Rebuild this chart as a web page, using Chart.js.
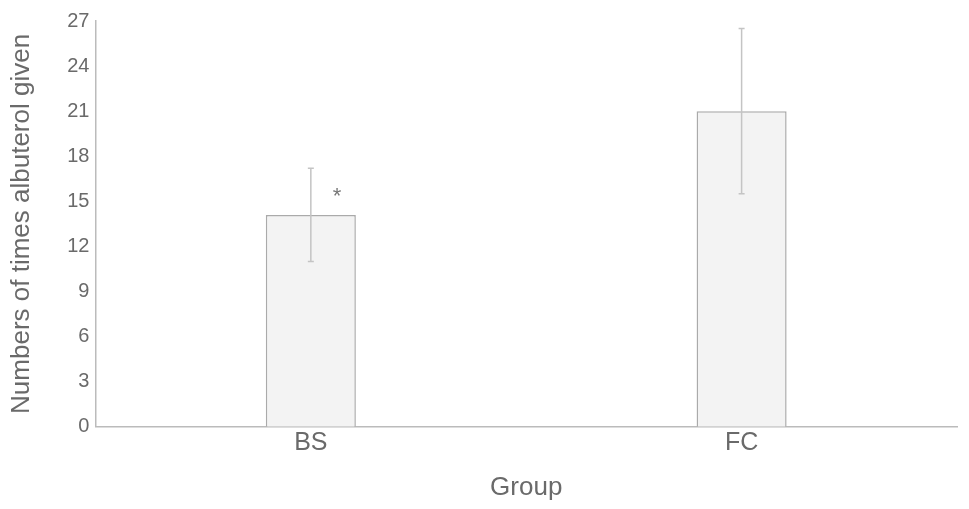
<!DOCTYPE html>
<html>
<head>
<meta charset="utf-8">
<script src="https://cdn.jsdelivr.net/npm/chart.js@4/dist/chart.umd.min.js"></script>
<style>
  html, body { margin: 0; padding: 0; background: #fff; }
  #wrap { width: 969px; height: 509px; }
</style>
</head>
<body>
<div id="wrap"><canvas id="albuterolChart" width="969" height="509"></canvas></div>
<script>
// Data
const groups = ['BS', 'FC'];
const means = [14.1, 21.0];
const errors = [3.1, 5.5];
const marks = ['*', ''];      // significance mark per group
const markValues = [15.6, 0]; // value at which the mark sits
const yTicks = [0, 3, 6, 9, 12, 15, 18, 21, 24, 27];

const textColor = '#6a6a6a';
const lineColor = '#bbb';
const fontFamily = '"Liberation Sans", Arial, sans-serif';

// Draws the error bars and the significance mark
const errorBars = {
    id: 'errorBars',
    afterDatasetsDraw(chart) {
        const ctx = chart.ctx;
        const y = chart.scales.y;
        const meta = chart.getDatasetMeta(0);
        ctx.save();
        meta.data.forEach((bar, i) => {
            const top = y.getPixelForValue(means[i] + errors[i]);
            const bottom = y.getPixelForValue(means[i] - errors[i]);
            ctx.strokeStyle = '#c4c4c4';
            ctx.lineWidth = 1.5;
            ctx.beginPath();
            ctx.moveTo(bar.x, top);
            ctx.lineTo(bar.x, bottom);
            ctx.moveTo(bar.x - 3, top);
            ctx.lineTo(bar.x + 3, top);
            ctx.moveTo(bar.x - 3, bottom);
            ctx.lineTo(bar.x + 3, bottom);
            ctx.stroke();
            if (marks[i]) {
                ctx.fillStyle = '#777';
                ctx.font = '22px ' + fontFamily;
                ctx.textAlign = 'center';
                ctx.textBaseline = 'middle';
                ctx.fillText(marks[i], bar.x + bar.width * 0.29, y.getPixelForValue(markValues[i]) + 5);
            }
        });
        ctx.restore();
    }
};

const config = {
    type: 'bar',
    data: {
        labels: groups,
        datasets: [{
            label: 'Numbers of times albuterol given',
            data: means,
            backgroundColor: '#f3f3f3',
            borderColor: '#aaa',
            borderWidth: 1.5,
            barPercentage: 1,
            categoryPercentage: 0.209
        }]
    },
    options: {
        responsive: false,
        animation: false,
        layout: { padding: { left: 6, right: 12, top: 21, bottom: 6 } },
        plugins: {
            legend: { display: false },
            tooltip: { enabled: false }
        },
        scales: {
            x: {
                grid: { display: false, drawTicks: false },
                border: { color: lineColor, width: 1.5 },
                ticks: {
                    color: textColor,
                    padding: 1,
                    font: { family: fontFamily, size: 25 }
                },
                title: {
                    display: true,
                    text: 'Group',
                    color: textColor,
                    padding: { top: 13, bottom: 0 },
                    font: { family: fontFamily, size: 26 }
                }
            },
            y: {
                min: 0,
                max: 27,
                afterBuildTicks(scale) {
                    scale.ticks = yTicks.map(v => ({ value: v }));
                },
                grid: { display: false, drawTicks: false },
                border: { color: lineColor, width: 1.5 },
                ticks: {
                    color: textColor,
                    padding: 6,
                    font: { family: fontFamily, size: 20 }
                },
                title: {
                    display: true,
                    text: 'Numbers of times albuterol given',
                    color: textColor,
                    padding: { top: 0, bottom: 24 },
                    font: { family: fontFamily, size: 26 }
                }
            }
        }
    },
    plugins: [errorBars]
};

const albuterolChart = new Chart(document.getElementById('albuterolChart'), config);
</script>
</body>
</html>
